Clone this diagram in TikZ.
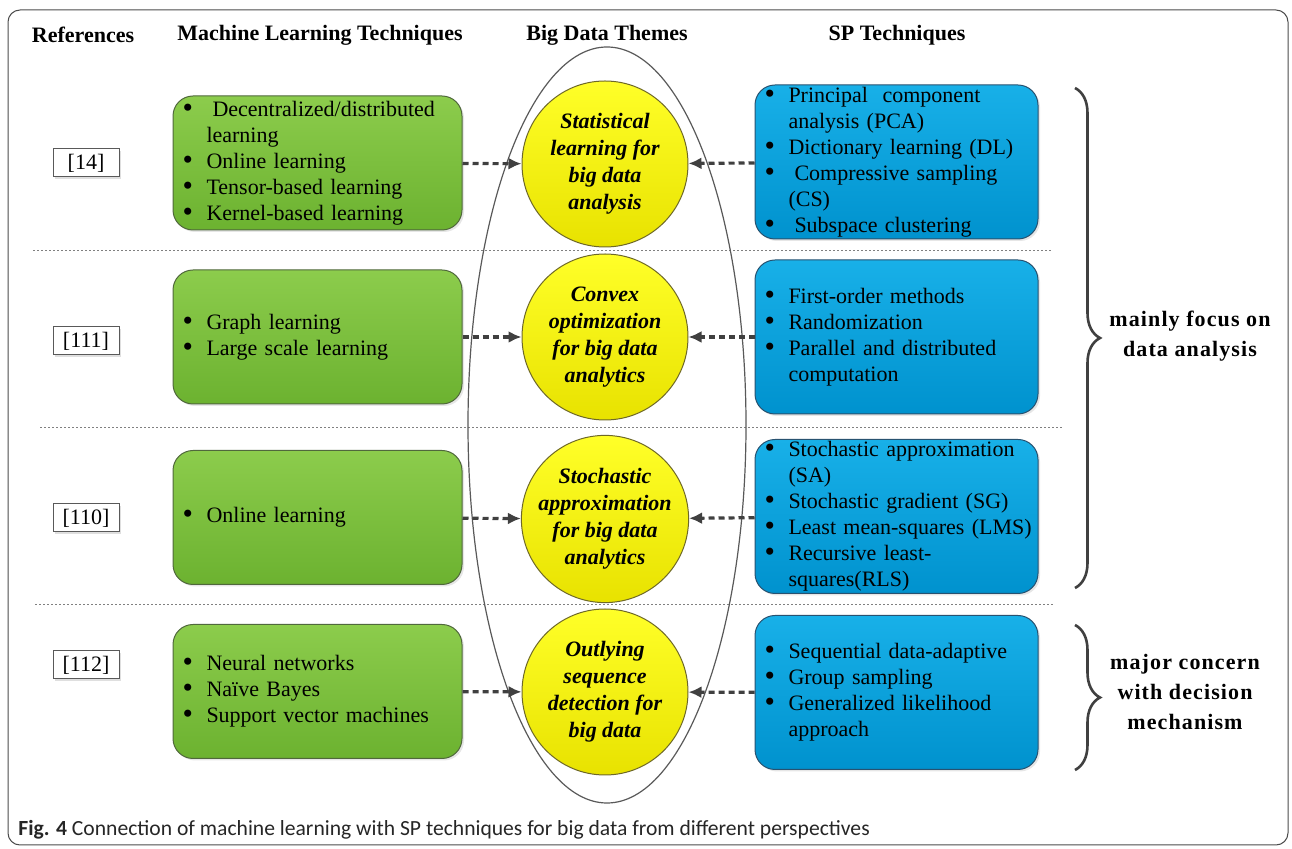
\documentclass[tikz,border=0pt]{standalone}
\usepackage{fontspec}
\setmainfont{Liberation Serif}
\newfontfamily\capfont{Carlito}
\newfontfamily\bracefont[LetterSpace=5]{Liberation Serif}
\usetikzlibrary{shapes.geometric,arrows.meta,decorations.pathreplacing,shadows}

\definecolor{mltop}{RGB}{140,204,76}
\definecolor{mlbot}{RGB}{108,178,48}
\definecolor{mlline}{RGB}{80,104,60}
\definecolor{sptop}{RGB}{24,176,232}
\definecolor{spbot}{RGB}{0,146,206}
\definecolor{spline}{RGB}{40,82,112}
\definecolor{thtop}{RGB}{255,255,40}
\definecolor{thbot}{RGB}{232,226,0}
\definecolor{thline}{RGB}{110,104,40}
\definecolor{flowgray}{RGB}{64,64,64}

\newcommand{\bitem}[1]{\hspace*{3pt}\makebox[12pt][l]{\smash{\raisebox{-0.6pt}{\scalebox{1.35}{\textbullet}}}}#1}
\newcommand{\bnext}[1]{\hspace*{15pt}#1}

\tikzset{
    head/.style={font=\fontsize{11}{13}\selectfont\bfseries},
    refbox/.style={draw=gray!70!black, line width=0.5pt, fill=white, minimum width=33pt, minimum height=14pt, inner sep=0pt,
        drop shadow={opacity=0.25, shadow xshift=0.8pt, shadow yshift=-0.8pt}, font=\fontsize{11}{13}\selectfont},
    mlbox/.style={draw=mlline, line width=0.5pt, rounded corners=10pt, top color=mltop, bottom color=mlbot,
        minimum width=144.5pt, minimum height=67pt, text width=141pt, inner xsep=1.75pt, inner ysep=0pt, align=left,
        drop shadow={opacity=0.2, shadow xshift=1pt, shadow yshift=-1pt}, font=\fontsize{11}{13}\selectfont},
    spbox/.style={draw=spline, line width=0.5pt, rounded corners=10pt, top color=sptop, bottom color=spbot,
        minimum width=141.5pt, minimum height=77pt, text width=138pt, inner xsep=1.75pt, inner ysep=0pt, align=left,
        drop shadow={opacity=0.2, shadow xshift=1pt, shadow yshift=-1pt}, font=\fontsize{11}{13}\selectfont},
    theme/.style={circle, draw=thline, line width=0.5pt, top color=thtop, bottom color=thbot, minimum size=83pt, inner sep=0pt,
        align=center, font=\fontsize{11}{13.5}\selectfont\bfseries\itshape},
    flow/.style={draw=flowgray, line width=1.6pt, dash pattern=on 3pt off 2pt, -{Latex[length=6.5pt,width=6pt]}},
    sep/.style={draw=gray, line width=0.5pt, dash pattern=on 1pt off 1pt},
    curly/.style={draw=flowgray, line width=1.3pt, decorate, decoration={brace, amplitude=12.5pt}},
    bracelbl/.style={align=center, font=\bracefont\bfseries\fontsize{11}{15}\selectfont}
}

\begin{document}
\begin{tikzpicture}[x=0.5pt, y=-0.5pt]
    \useasboundingbox (0,0) rectangle (1292,849);
    \draw[gray!60!black, line width=0.5pt, rounded corners=6pt] (8,10) rectangle (1288,845);

    % Column titles
    \node[head] (hRef) at (83,35) {References};
    \node[head] (hML) at (320,35) {Machine Learning Techniques};
    \node[head] (hBD) at (607,35) {Big Data Themes};
    \node[head] (hSP) at (897,35) {SP Techniques};

    % Row separators
    \draw[sep] (33,251) -- (1052,251);
    \draw[sep] (40,428) -- (1062,428);
    \draw[sep] (35,605) -- (1055,605);

    % Big data themes
    \node[ellipse, draw=gray!70!black, line width=0.6pt, minimum width=139pt, minimum height=378pt, inner sep=0pt] (themes) at (607,425) {};
    \node[theme] (c1) at (605,164) {Statistical\\learning for\\big data\\analysis};
    \node[theme] (c2) at (605,337) {Convex\\optimization\\for big data\\analytics};
    \node[theme] (c3) at (605,519) {Stochastic\\approximation\\for big data\\analytics};
    \node[theme] (c4) at (605,692) {Outlying\\sequence\\detection for\\big data};

    % References
    \node[refbox] (r1) at (86,163) {[14]};
    \node[refbox] (r2) at (86,341) {[111]};
    \node[refbox] (r3) at (86,518) {[110]};
    \node[refbox] (r4) at (86,665) {[112]};

    % Machine learning techniques
    \node[mlbox] (g1) at (317.5,163) {\bitem{\hspace{3pt}Decentralized/distributed}\\\bnext{learning}\\\bitem{Online learning}\\\bitem{Tensor-based learning}\\\bitem{Kernel-based learning}};
    \node[mlbox] (g2) at (317.5,337) {\bitem{Graph learning}\\\bitem{Large scale learning}};
    \node[mlbox] (g3) at (317.5,517.5) {\bitem{Online learning}};
    \node[mlbox] (g4) at (317.5,691.5) {\bitem{Neural networks}\\\bitem{Naïve Bayes}\\\bitem{Support vector machines}};

    % SP techniques
    \node[spbox] (b1) at (896.5,162) {\bitem{Principal\ \ component}\\\bnext{analysis (PCA)}\\\bitem{Dictionary learning (DL)}\\\bitem{\hspace{3pt}Compressive sampling}\\\bnext{(CS)}\\\bitem{\hspace{3pt}Subspace clustering}};
    \node[spbox] (b2) at (896.5,337) {\bitem{First-order methods}\\\bitem{Randomization}\\\bitem{Parallel and distributed}\\\bnext{computation}};
    \node[spbox] (b3) at (896.5,516.5) {\bitem{Stochastic approximation}\\\bnext{(SA)}\\\bitem{Stochastic gradient (SG)}\\\bitem{Least mean-squares (LMS)}\\\bitem{Recursive least-}\\\bnext{squares(RLS)}};
    \node[spbox] (b4) at (896.5,692.5) {\bitem{Sequential data-adaptive}\\\bitem{Group sampling}\\\bitem{Generalized likelihood}\\\bnext{approach}};

    % Links into the themes
    \draw[flow] (g1) -- (c1);
    \draw[flow] (g2) -- (c2);
    \draw[flow] (g3) -- (c3);
    \draw[flow] (g4) -- (c4);
    \draw[flow] (b1) -- (c1);
    \draw[flow] (b2) -- (c2);
    \draw[flow] (b3) -- (c3);
    \draw[flow] (b4) -- (c4);

    % Braces and their notes
    \draw[curly] (1075,88) -- (1075,588);
    \draw[curly] (1075,625) -- (1075,770);
    \node[bracelbl] (focus) at (1190,336) {mainly focus on\\data analysis};
    \node[bracelbl] (concern) at (1185,692) {major concern\\with decision\\mechanism};

    % Caption
    \node[anchor=west, inner sep=0pt, font=\capfont\fontsize{10.8}{12}\selectfont, text=black!85] (caption) at (18,830)
        {\textbf{Fig. 4} Connection of machine learning with SP techniques for big data from different perspectives};
\end{tikzpicture}
\end{document}
